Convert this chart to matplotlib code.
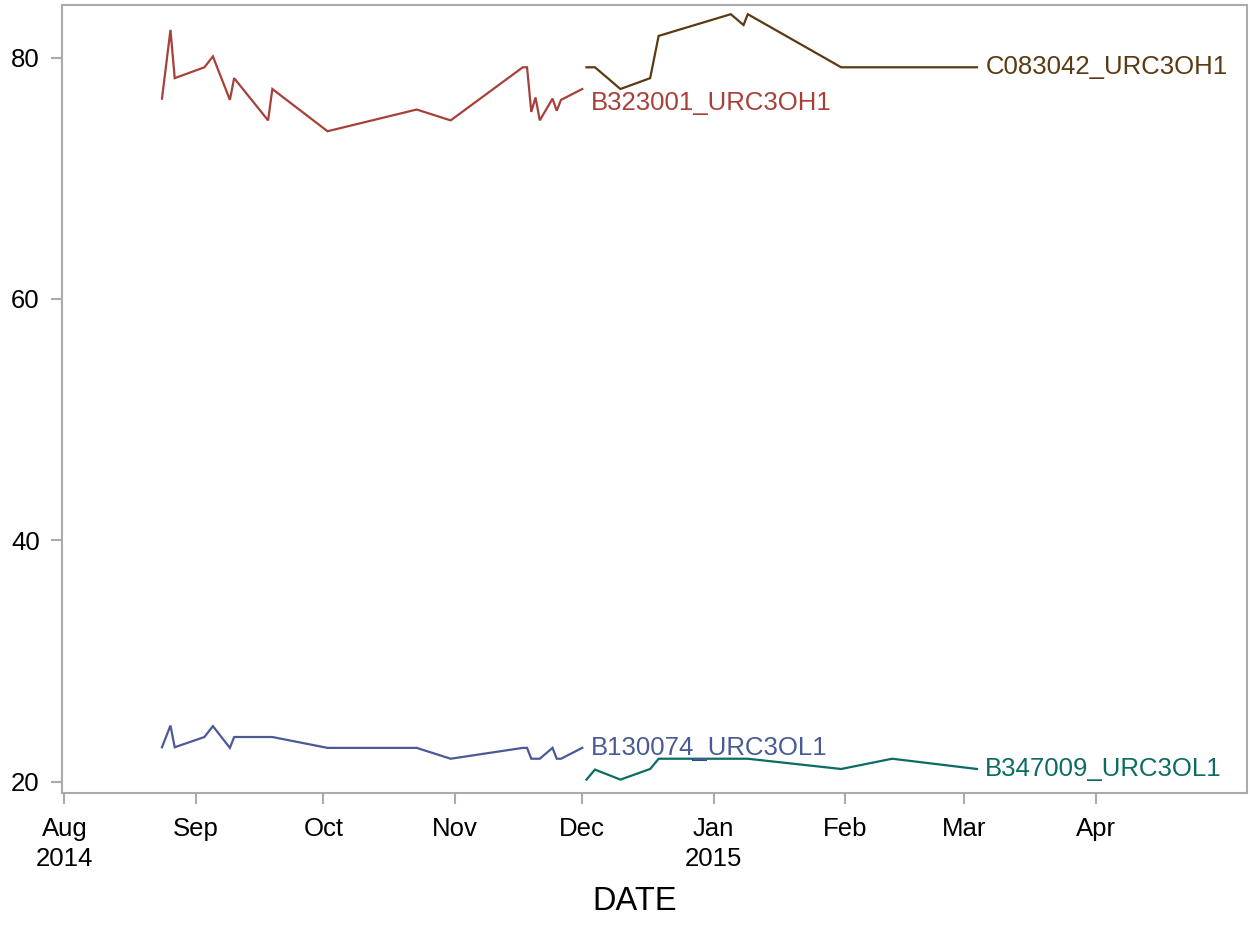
import numpy as np
import pandas as pd
import matplotlib
matplotlib.use('Agg')
import matplotlib.pyplot as plt
import matplotlib.dates as mdates

# series data
red_dates = ['2014-08-24', '2014-08-26', '2014-08-27', '2014-09-03', '2014-09-05',
             '2014-09-09', '2014-09-10', '2014-09-18', '2014-09-19', '2014-10-02',
             '2014-10-23', '2014-10-31', '2014-11-17', '2014-11-18', '2014-11-19',
             '2014-11-20', '2014-11-21', '2014-11-24', '2014-11-25', '2014-11-26',
             '2014-12-01']
red_vals = [76.6, 82.3, 78.3, 79.2, 80.1, 76.5, 78.3, 74.8, 77.4, 73.9,
            75.7, 74.8, 79.2, 79.2, 75.5, 76.7, 74.8, 76.6, 75.6, 76.5, 77.4]

blue_dates = ['2014-08-24', '2014-08-26', '2014-08-27', '2014-09-03', '2014-09-05',
              '2014-09-09', '2014-09-10', '2014-09-18', '2014-09-19', '2014-10-02',
              '2014-10-23', '2014-10-31', '2014-11-17', '2014-11-18', '2014-11-19',
              '2014-11-20', '2014-11-21', '2014-11-24', '2014-11-25', '2014-11-26',
              '2014-12-01']
blue_vals = [22.85, 24.65, 22.85, 23.7, 24.6, 22.8, 23.7, 23.7, 23.7, 22.8,
             22.8, 21.9, 22.8, 22.8, 21.9, 21.9, 21.9, 22.8, 21.9, 21.9, 22.8]

blue2_dates = ['2014-12-27', '2014-12-30']
blue2_vals = [21.9, 21.9]

brown_dates = ['2014-12-02', '2014-12-04', '2014-12-10', '2014-12-17', '2014-12-19',
               '2015-01-05', '2015-01-08', '2015-01-09', '2015-01-31', '2015-03-04']
brown_vals = [79.2, 79.2, 77.4, 78.3, 81.8, 83.6, 82.7, 83.6, 79.2, 79.2]

teal_dates = ['2014-12-02', '2014-12-04', '2014-12-10', '2014-12-17', '2014-12-19',
              '2015-01-09', '2015-01-31', '2015-02-12', '2015-03-04']
teal_vals = [20.17, 21.0, 20.17, 21.05, 21.9, 21.9, 21.05, 21.9, 21.05]

series_names = ['B323001_URC3OH1', 'B130074_URC3OL1', 'C083042_URC3OH1', 'B347009_URC3OL1']
tick_months = ['2014-08-01', '2014-09-01', '2014-10-01', '2014-11-01', '2014-12-01',
               '2015-01-01', '2015-02-01', '2015-03-01', '2015-04-01']
tick_labels = ['Aug\n2014', 'Sep', 'Oct', 'Nov', 'Dec', 'Jan\n2015', 'Feb', 'Mar', 'Apr']
y_ticks = [20, 40, 60, 80]

plt.rcParams['font.family'] = ['Liberation Sans', 'DejaVu Sans']

fig = plt.figure(figsize=(12.5, 9.25), dpi=100)
ax = fig.add_axes([0.0496, 0.1427, 0.948, 0.852])

c_red, c_blue, c_teal, c_brown = '#A8403A', '#4A5A96', '#0C6B62', '#5A3A12'
lw = 1.6

series = [
    (red_dates, red_vals, c_red, series_names[0], -14),
    (blue_dates, blue_vals, c_blue, series_names[1], 0),
    (brown_dates, brown_vals, c_brown, series_names[2], 0),
    (teal_dates, teal_vals, c_teal, series_names[3], 0),
]
for d, v, c, name, dy in series:
    x = pd.to_datetime(d)
    ax.plot(x, v, color=c, lw=lw, solid_joinstyle='miter')
    ax.annotate(name, xy=(x[-1], v[-1]), xytext=(6, dy * 0.72),
                textcoords='offset points', ha='left', va='center',
                color=c, fontsize=18.5)

ax.plot(pd.to_datetime(blue2_dates), blue2_vals, color='#1f5a78', lw=2.2)

x0 = mdates.date2num(pd.Timestamp('2014-08-01'))
ax.set_xlim(x0 - 0.55, x0 + 278.6)
ax.set_ylim(19.06, 84.37)

ax.set_xticks(pd.to_datetime(tick_months))
ax.set_xticklabels(tick_labels, fontsize=18.5, linespacing=1.35)
ax.set_yticks(y_ticks)
ax.set_yticklabels([str(t) for t in y_ticks], fontsize=18.5)

for s in ax.spines.values():
    s.set_color('#ABABAB')
    s.set_linewidth(1.5)
ax.tick_params(axis='both', color='#ABABAB', width=1.5, length=8)
ax.tick_params(axis='y', pad=8)
ax.tick_params(axis='x', pad=9)

ax.set_xlabel('DATE', fontsize=23.5)
ax.xaxis.set_label_coords(0.483, -0.118)

fig.savefig('out.png', dpi=100, facecolor='white')
